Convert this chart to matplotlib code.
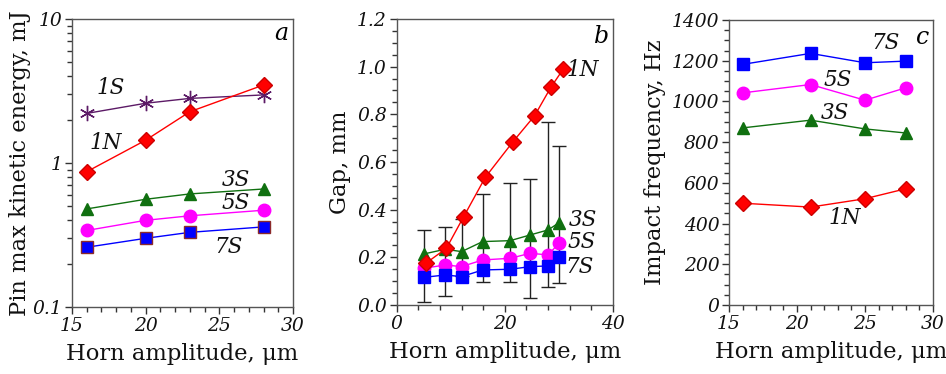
import matplotlib
matplotlib.use("Agg")
import matplotlib.pyplot as plt
import numpy as np
from matplotlib.ticker import MultipleLocator, LogLocator, FixedLocator, NullFormatter, FormatStrFormatter

plt.rcParams['font.family'] = ['DejaVu Serif']
plt.rcParams['mathtext.fontset'] = 'dejavuserif'

# ---- Panel a: pin max kinetic energy (mJ) ----
a_x = [16, 20, 23, 28]
a_1S = [2.21, 2.60, 2.81, 2.97]
a_1N = [0.87, 1.44, 2.27, 3.48]
a_3S = [0.48, 0.56, 0.61, 0.66]
a_5S = [0.34, 0.40, 0.43, 0.47]
a_7S = [0.26, 0.30, 0.33, 0.36]

# ---- Panel b: gap (mm) ----
b_x_1N = [5.4, 9.2, 12.4, 16.4, 21.5, 25.5, 28.5, 30.8]
b_1N = [0.175, 0.238, 0.371, 0.536, 0.685, 0.794, 0.913, 0.990]
b_x_S = [5.0, 9.0, 12.0, 15.9, 21.0, 24.7, 28.0, 30.0]
b_3S = [0.214, 0.234, 0.224, 0.266, 0.270, 0.294, 0.315, 0.345]
b_5S = [0.154, 0.168, 0.161, 0.189, 0.196, 0.217, 0.210, 0.259]
b_7S = [0.116, 0.126, 0.119, 0.147, 0.150, 0.161, 0.164, 0.203]
b_err_lo = [0.014, 0.039, 0.12, 0.095, 0.095, 0.031, 0.074, 0.094]
b_err_hi = [0.315, 0.329, 0.362, 0.466, 0.513, 0.527, 0.766, 0.667]

# ---- Panel c: impact frequency (Hz) ----
c_x = [16, 21, 25, 28]
c_7S = [1182, 1236, 1190, 1198]
c_5S = [1042, 1083, 1006, 1067]
c_3S = [870, 908, 865, 845]
c_1N = [500, 481, 522, 571]

xlabel = "Horn amplitude, μm"
ylabels = ["Pin max kinetic energy, mJ", "Gap, mm", "Impact frequency, Hz"]

RED = '#ff0000'
GREEN = '#107010'
MAG = '#ff00ff'
BLUE = '#0000ff'
PURP = '#5c1a66'

fig = plt.figure(figsize=(9.46, 3.74), dpi=100)
axa = fig.add_axes([0.0761, 0.1791, 0.2336, 0.7701])
axb = fig.add_axes([0.4193, 0.1845, 0.2287, 0.7647])
axc = fig.add_axes([0.7706, 0.1845, 0.2156, 0.7620])

LBL = 16.3
lblfont = dict(family='DejaVu Serif', size=LBL, color='#111111')
serfont = dict(family='DejaVu Serif', style='italic', size=15.5, color='#111111')

def style_axes(ax):
    for s in ax.spines.values():
        s.set_color('#555555')
        s.set_linewidth(1.0)
    ax.tick_params(which='both', direction='out', color='#333333', top=False, right=False)
    ax.tick_params(which='major', length=5, width=1, pad=2)
    ax.tick_params(which='minor', length=3.5, width=1)
    for lab in ax.get_xticklabels() + ax.get_yticklabels():
        lab.set_fontfamily('DejaVu Serif')
        lab.set_fontstyle('italic')
        lab.set_fontsize(13.5)
        lab.set_color('#111111')
    ax.set_xlabel(xlabel, **lblfont, labelpad=6)

lw = 1.0
# Panel a
axa.set_yscale('log')
axa.plot(a_x, a_1S, color=PURP, lw=lw, marker=(6, 2, 0), ms=11, mew=1.0, mec=PURP)
axa.plot(a_x, a_1N, color=RED, lw=lw, marker='D', ms=8, mfc=RED, mec='#cc0000')
axa.plot(a_x, a_3S, color=GREEN, lw=lw, marker='^', ms=9, mfc=GREEN, mec=GREEN)
axa.plot(a_x, a_5S, color=MAG, lw=lw, marker='o', ms=9, mfc=MAG, mec=MAG)
axa.plot(a_x, a_7S, color=BLUE, lw=lw, marker='s', ms=8, mfc=BLUE, mec='#8b2a2a', mew=1.0)
axa.set_xlim(15, 30)
axa.set_ylim(0.1, 10)
axa.xaxis.set_major_locator(MultipleLocator(5))
axa.xaxis.set_minor_locator(MultipleLocator(1))
axa.yaxis.set_major_locator(FixedLocator([0.1, 1, 10]))
axa.yaxis.set_major_formatter(FormatStrFormatter('%g'))
axa.yaxis.set_minor_locator(LogLocator(base=10, subs=np.arange(2, 10)))
axa.yaxis.set_minor_formatter(NullFormatter())
style_axes(axa)
axa.set_ylabel(ylabels[0], **lblfont)
axa.yaxis.set_label_coords(-0.186, 0.5)
axa.text(17.6, 3.3, "1S", **serfont, ha='center', va='center')
axa.text(17.3, 1.38, "1N", **serfont, ha='center', va='center')
axa.text(26.1, 0.76, "3S", **serfont, ha='center', va='center')
axa.text(26.1, 0.53, "5S", **serfont, ha='center', va='center')
axa.text(25.6, 0.26, "7S", **serfont, ha='center', va='center')
axa.text(0.945, 0.95, "a", transform=axa.transAxes, family='DejaVu Serif', style='italic', size=17, ha='center', va='center')

# Panel b
ctr = [(l + h) / 2 for l, h in zip(b_err_lo, b_err_hi)]
axb.errorbar(b_x_S, ctr, yerr=[np.subtract(ctr, b_err_lo), np.subtract(b_err_hi, ctr)],
             fmt='none', ecolor='#222222', elinewidth=1.0, capsize=5, capthick=1.0, zorder=1)
axb.plot(b_x_S, b_3S, color=GREEN, lw=lw, marker='^', ms=9, mfc=GREEN, mec=GREEN, zorder=3)
axb.plot(b_x_S, b_5S, color=MAG, lw=lw, marker='o', ms=9, mfc=MAG, mec=MAG, zorder=3)
axb.plot(b_x_S, b_7S, color=BLUE, lw=lw, marker='s', ms=8, mfc=BLUE, mec=BLUE, zorder=3)
axb.plot(b_x_1N, b_1N, color=RED, lw=lw, marker='D', ms=8, mfc=RED, mec='#cc0000', zorder=4)
axb.set_xlim(0, 40)
axb.set_ylim(0, 1.2)
axb.xaxis.set_major_locator(MultipleLocator(20))
axb.xaxis.set_minor_locator(MultipleLocator(4))
axb.yaxis.set_major_locator(MultipleLocator(0.2))
axb.yaxis.set_major_formatter(FormatStrFormatter('%.1f'))
axb.yaxis.set_minor_locator(MultipleLocator(0.05))
style_axes(axb)
axb.set_ylabel(ylabels[1], **lblfont)
axb.yaxis.set_label_coords(-0.211, 0.5)
axb.text(34.4, 0.986, "1N", **serfont, ha='center', va='center')
axb.text(34.4, 0.357, "3S", **serfont, ha='center', va='center')
axb.text(34.2, 0.264, "5S", **serfont, ha='center', va='center')
axb.text(33.9, 0.159, "7S", **serfont, ha='center', va='center')
axb.text(0.945, 0.94, "b", transform=axb.transAxes, family='DejaVu Serif', style='italic', size=17, ha='center', va='center')

# Panel c
axc.plot(c_x, c_7S, color=BLUE, lw=lw, marker='s', ms=8, mfc=BLUE, mec=BLUE)
axc.plot(c_x, c_5S, color=MAG, lw=lw, marker='o', ms=9, mfc=MAG, mec=MAG)
axc.plot(c_x, c_3S, color=GREEN, lw=lw, marker='^', ms=9, mfc=GREEN, mec=GREEN)
axc.plot(c_x, c_1N, color=RED, lw=lw, marker='D', ms=8, mfc=RED, mec='#cc0000')
axc.set_xlim(15, 30)
axc.set_ylim(0, 1400)
axc.xaxis.set_major_locator(MultipleLocator(5))
axc.xaxis.set_minor_locator(MultipleLocator(1))
axc.yaxis.set_major_locator(MultipleLocator(200))
axc.yaxis.set_minor_locator(MultipleLocator(50))
style_axes(axc)
axc.set_ylabel(ylabels[2], **lblfont)
axc.yaxis.set_label_coords(-0.309, 0.5)
axc.text(26.5, 1287, "7S", **serfont, ha='center', va='center')
axc.text(23.0, 1105, "5S", **serfont, ha='center', va='center')
axc.text(22.8, 943, "3S", **serfont, ha='center', va='center')
axc.text(23.5, 427, "1N", **serfont, ha='center', va='center')
axc.text(0.95, 0.94, "c", transform=axc.transAxes, family='DejaVu Serif', style='italic', size=17, ha='center', va='center')

fig.savefig("out.png", dpi=100)
